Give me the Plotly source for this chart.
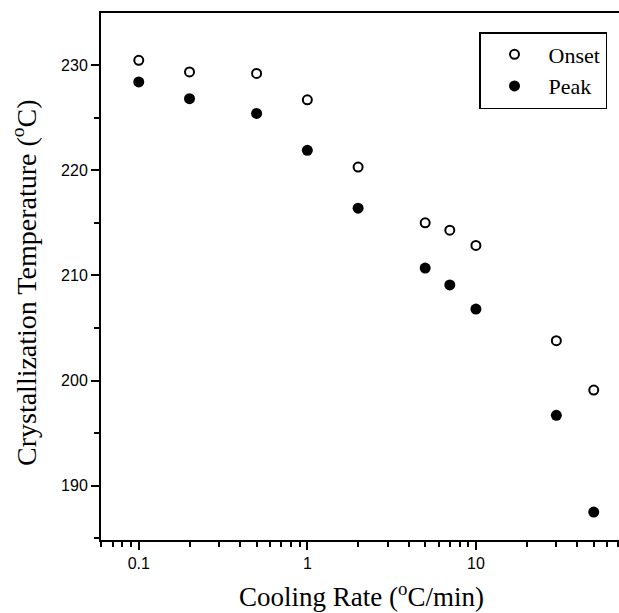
import numpy as np
import plotly.graph_objects as go

cooling_rate = [0.1, 0.2, 0.5, 1, 2, 5, 7, 10, 30, 50]
onset_temp = [230.45, 229.35, 229.2, 226.7, 220.3, 215.0, 214.3, 212.85, 203.8, 199.1]
peak_temp = [228.4, 226.8, 225.4, 221.9, 216.4, 210.7, 209.1, 206.8, 196.7, 187.5]

x_major_ticks = [0.1, 1, 10]
x_major_labels = ["0.1", "1", "10"]
x_minor_ticks = [0.06, 0.07, 0.08, 0.09, 0.2, 0.3, 0.4, 0.5, 0.6, 0.7, 0.8, 0.9,
                 2, 3, 4, 5, 6, 7, 8, 9, 20, 30, 40, 50, 60, 70]
y_major_ticks = [190, 200, 210, 220, 230]
y_minor_ticks = [185, 195, 205, 215, 225, 235]

fig = go.Figure()
fig.add_trace(go.Scatter(
    x=cooling_rate, y=onset_temp, mode="markers", name="Onset",
    marker=dict(symbol="circle-open", size=9, color="black", line=dict(width=2, color="black")),
))
fig.add_trace(go.Scatter(
    x=cooling_rate, y=peak_temp, mode="markers", name="Peak",
    marker=dict(symbol="circle", size=11, color="black"),
))

W, H = 619, 613
L, R, T, B = 101, 0, 13, 73
PW, PH = W - L - R, H - T - B

fig.update_layout(
    width=W, height=H,
    margin=dict(l=L, r=R, t=T, b=B),
    paper_bgcolor="white", plot_bgcolor="white",
    showlegend=True,
    legend=dict(
        x=(607 - L) / PW, xanchor="right", y=(H - B - 32) / PH, yanchor="top",
        bordercolor="black", borderwidth=1.5, bgcolor="white",
        font=dict(family="Liberation Serif", size=22, color="black"),
        itemwidth=58,
    ),
    xaxis=dict(
        type="log", range=[np.log10(0.0597), np.log10(70.6)],
        showline=True, linecolor="black", linewidth=2, mirror=True,
        showgrid=False, zeroline=False,
        tickmode="array", tickvals=x_major_ticks, ticktext=x_major_labels,
        ticks="outside", ticklen=8, tickwidth=2, tickcolor="black",
        minor=dict(tickmode="array", tickvals=x_minor_ticks, ticks="outside",
                   ticklen=5, tickwidth=2, tickcolor="black", showgrid=False),
        tickfont=dict(family="Liberation Sans", size=16, color="black"),
    ),
    yaxis=dict(
        range=[184.85, 234.95],
        showline=True, linecolor="black", linewidth=2, mirror=False,
        showgrid=False, zeroline=False,
        tickmode="array", tickvals=y_major_ticks,
        ticks="outside", ticklen=8, tickwidth=2, tickcolor="black",
        minor=dict(tickmode="array", tickvals=y_minor_ticks, ticks="outside",
                   ticklen=5, tickwidth=2, tickcolor="black", showgrid=False),
        tickfont=dict(family="Liberation Sans", size=16, color="black"),
    ),
    annotations=[
        dict(text="Cooling Rate (<sup>o</sup>C/min)", xref="paper", yref="paper",
             x=(361 - L) / PW, y=(H - B - 595) / PH, xanchor="center", yanchor="middle",
             showarrow=False, font=dict(family="Liberation Serif", size=27, color="black")),
        dict(text="Crystallization Temperature (<sup>o</sup>C)", xref="paper", yref="paper",
             x=(24 - L) / PW, y=(H - B - 283) / PH, xanchor="center", yanchor="middle",
             textangle=-90, showarrow=False,
             font=dict(family="Liberation Serif", size=28, color="black")),
    ],
)

fig.write_html("out.html", config={"displayModeBar": False},
               post_script="document.body.style.margin='0px';")
